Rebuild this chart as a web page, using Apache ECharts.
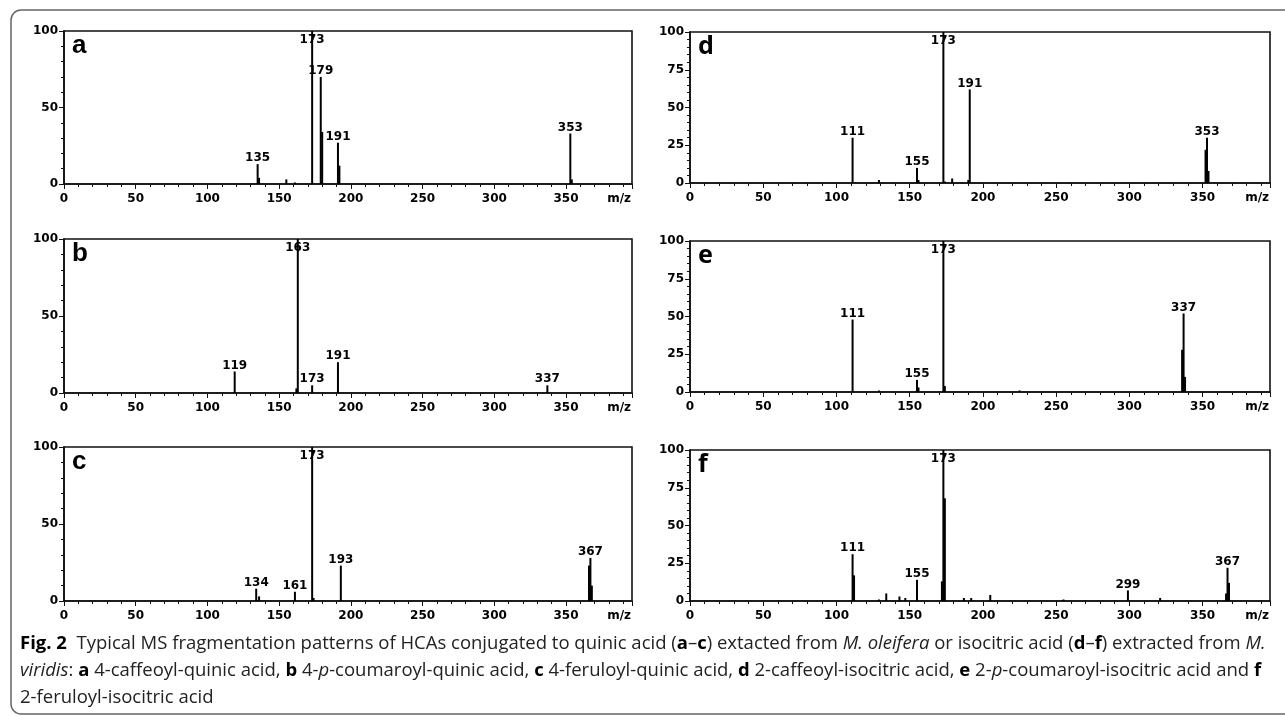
<!DOCTYPE html>
<html>
<head>
<meta charset="utf-8">
<script src="https://cdn.jsdelivr.net/npm/echarts/dist/echarts.min.js"></script>
<style>
html, body { margin: 0; padding: 0; background: #fff; }
#chart { width: 1285px; height: 716px; }
</style>
</head>
<body>
<div id="chart"></div>
<script>
// peaks: [m/z, relative intensity %]
const peaksA = [[135, 13], [136, 4], [155, 3], [161, 1], [173, 100], [179, 70], [180, 34], [191, 27], [192, 12], [353, 33], [354, 3]];
const peaksB = [[119, 14], [162, 3], [163, 100], [173, 5], [191, 20], [337, 5]];
const peaksC = [[134, 8], [136, 3], [161, 6], [173, 100], [174, 2], [193, 23], [366, 23], [367, 28], [368, 10]];
const peaksD = [[111, 30], [129, 2], [155, 10], [156, 2], [173, 100], [174, 1], [179, 3], [190, 2], [191, 62], [352, 22], [353, 30], [354, 8]];
const peaksE = [[111, 48], [129, 1], [155, 8], [156, 3], [173, 100], [174, 4], [225, 1], [336, 28], [337, 52], [338, 10]];
const peaksF = [[111, 31], [112, 17], [129, 1], [134, 5], [143, 3], [147, 2], [155, 14], [172, 13], [173, 100], [174, 68], [187, 2], [192, 2], [205, 4], [255, 1], [299, 7], [321, 2], [366, 5], [367, 22], [368, 12]];

// labelled peaks per panel
const labelsA = [135, 173, 179, 191, 353];
const labelsB = [119, 163, 173, 191, 337];
const labelsC = [134, 161, 173, 193, 367];
const labelsD = [111, 155, 173, 191, 353];
const labelsE = [111, 155, 173, 337];
const labelsF = [111, 155, 173, 299, 367];

const panelLetters = ['a', 'b', 'c', 'd', 'e', 'f'];
const xTicks = [0, 50, 100, 150, 200, 250, 300, 350];
const yTicksLeft = [0, 50, 100];
const yTicksRight = [0, 25, 50, 75, 100];

const panels = [
    { peaks: peaksA, labels: labelsA, left: 64, top: 31, width: 568, height: 153, yStep: 50 },
    { peaks: peaksB, labels: labelsB, left: 64, top: 239, width: 568, height: 154, yStep: 50 },
    { peaks: peaksC, labels: labelsC, left: 64, top: 447, width: 568, height: 154, yStep: 50 },
    { peaks: peaksD, labels: labelsD, left: 690, top: 32, width: 580, height: 151, yStep: 25 },
    { peaks: peaksE, labels: labelsE, left: 690, top: 241, width: 580, height: 151, yStep: 25 },
    { peaks: peaksF, labels: labelsF, left: 690, top: 450, width: 580, height: 151, yStep: 25 }
];

const tickFont = { fontFamily: 'DejaVu Sans', fontWeight: 'bold', fontSize: 12, color: '#000' };

// turn peak list into bar items, labelling the chosen ones
const stickData = (peaks, labels) => peaks.map(([mz, y]) => {
    const item = { value: [mz, y] };
    if (labels.includes(mz)) {
        item.label = {
            show: true,
            formatter: String(mz),
            position: y >= 95 ? 'insideTop' : 'top',
            distance: y >= 95 ? 3 : 0
        };
    }
    return item;
});

const chart = echarts.init(document.getElementById('chart'));

const grid = [], xAxis = [], yAxis = [], series = [], title = [];
panels.forEach((p, i) => {
    const yTicks = p.yStep === 50 ? yTicksLeft : yTicksRight;
    grid.push({
        left: p.left, top: p.top, width: p.width, height: p.height,
        show: true, borderColor: '#111', borderWidth: 1.6
    });
    xAxis.push({
        gridIndex: i, type: 'value', min: 0, max: 396, interval: 50,
        name: 'm/z', nameLocation: 'end', nameGap: -1,
        nameTextStyle: { ...tickFont, align: 'right', verticalAlign: 'top', padding: [9, 0, 0, 0] },
        axisLine: { show: true, lineStyle: { color: '#111', width: 1.6 } },
        axisTick: { show: true, length: 5, lineStyle: { color: '#111', width: 1 } },
        minorTick: { show: true, splitNumber: 5, length: 3, lineStyle: { color: '#111', width: 1 } },
        splitLine: { show: false },
        axisLabel: { ...tickFont, margin: 9, formatter: v => xTicks.includes(v) ? String(v) : '' }
    });
    yAxis.push({
        gridIndex: i, type: 'value', min: 0, max: 100, interval: p.yStep,
        axisLine: { show: true, lineStyle: { color: '#111', width: 1.6 } },
        axisTick: { show: true, length: 5, lineStyle: { color: '#111', width: 1 } },
        minorTick: { show: true, splitNumber: 5, length: 3, lineStyle: { color: '#111', width: 1 } },
        splitLine: { show: false },
        axisLabel: { ...tickFont, margin: 6, formatter: v => yTicks.includes(v) ? String(v) : '' }
    });
    series.push({
        type: 'bar', xAxisIndex: i, yAxisIndex: i,
        barWidth: 2, silent: true,
        itemStyle: { color: '#000' },
        label: { show: false, color: '#000', fontFamily: 'DejaVu Sans', fontWeight: 'bold', fontSize: 12 },
        data: stickData(p.peaks, p.labels)
    });
    title.push({
        text: panelLetters[i], left: p.left + 8, top: p.top + 2, padding: 0,
        textStyle: i < 3
            ? { fontFamily: 'Liberation Sans', fontWeight: 'bold', fontSize: 26, color: '#000' }
            : { fontFamily: 'Noto Sans', fontWeight: 'bold', fontSize: 25, color: '#000' }
    });
});

const capFont = { fontFamily: 'Open Sans', fontSize: 18.5, lineHeight: 27, fill: '#222' };
const caption =
    '{b|Fig. 2}  Typical MS fragmentation patterns of HCAs conjugated to quinic acid ({b|a}–{b|c}) extacted from {i|M. oleifera} or isocitric acid ({b|d}–{b|f}) extracted from {i|M.}\n' +
    '{i|viridis}: {b|a} 4-caffeoyl-quinic acid, {b|b} 4-{i|p}-coumaroyl-quinic acid, {b|c} 4-feruloyl-quinic acid, {b|d} 2-caffeoyl-isocitric acid, {b|e} 2-{i|p}-coumaroyl-isocitric acid and {b|f}\n' +
    '2-feruloyl-isocitric acid';

chart.setOption({
    animation: false,
    title, grid, xAxis, yAxis, series,
    graphic: [
        {
            type: 'rect', silent: true,
            shape: { x: 11, y: 10, width: 1300, height: 704, r: 10 },
            style: { fill: 'none', stroke: '#666', lineWidth: 1.5 }
        },
        {
            type: 'text', left: 20, top: 630, silent: true,
            style: {
                text: caption, ...capFont,
                rich: {
                    b: { ...capFont, fontWeight: 'bold', fill: '#000' },
                    i: { ...capFont, fontStyle: 'italic' }
                }
            }
        }
    ]
});
</script>
</body>
</html>
